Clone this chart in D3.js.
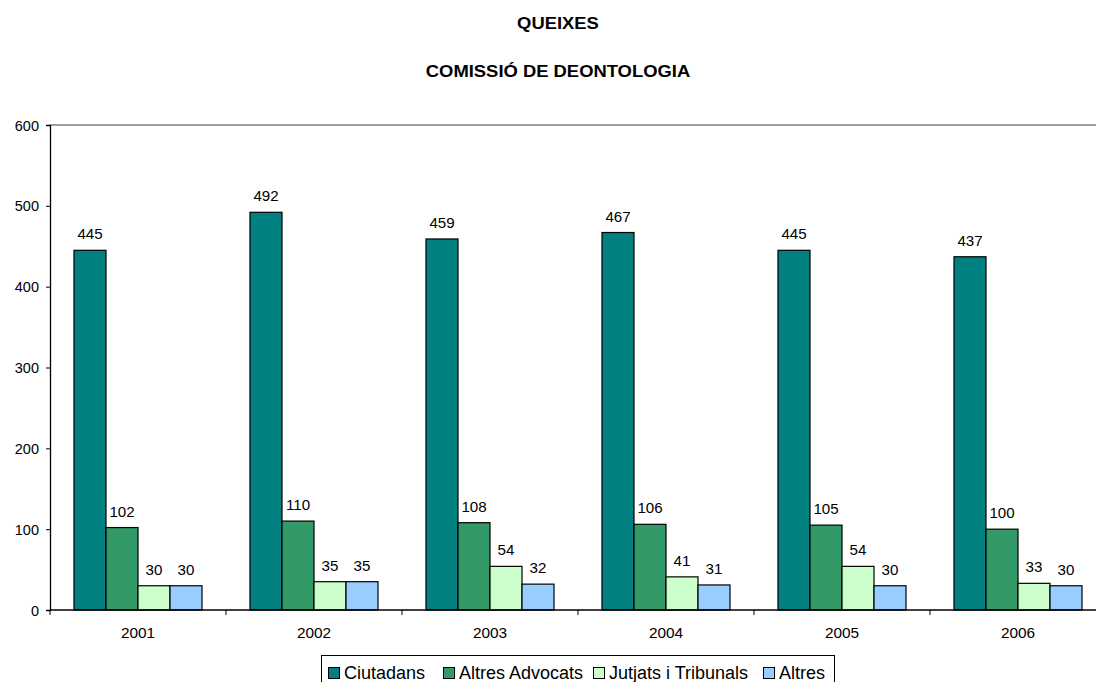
<!DOCTYPE html>
<html>
<head>
<meta charset="utf-8">
<script src="https://cdn.jsdelivr.net/npm/d3@7"></script>
<style>
  body { margin: 0; background: #fff; }
  svg { font-family: Arial, "Liberation Sans", sans-serif; }
</style>
</head>
<body>
<svg id="chart" width="1096" height="682"></svg>
<script>
var years = ["2001", "2002", "2003", "2004", "2005", "2006"];
var seriesNames = ["Ciutadans", "Altres Advocats", "Jutjats i Tribunals", "Altres"];
var seriesColors = ["#008080", "#339966", "#CCFFCC", "#99CCFF"];
var ciutadans = [445, 492, 459, 467, 445, 437];
var altresAdvocats = [102, 110, 108, 106, 105, 100];
var jutjats = [30, 35, 54, 41, 54, 33];
var altres = [30, 35, 32, 31, 30, 30];
var yTicks = [0, 100, 200, 300, 400, 500, 600];

var seriesValues = [ciutadans, altresAdvocats, jutjats, altres];

var svg = d3.select("#chart");
var plotLeft = 50, plotTop = 125, plotBottom = 610, catW = 176;
var plotRight = plotLeft + catW * years.length;

// text drawn a little wider, like the original rendering
function wideText(parent, x, y, str, size, sx, anchor, bold){
    var t = parent.append("text")
        .attr("transform", "translate(" + x + "," + y + ") scale(" + sx + ",1)")
        .attr("text-anchor", anchor || "start")
        .style("font-size", size + "px")
        .text(str);
    if (bold) t.style("font-weight", "bold");
    return t;
}

// titles
wideText(svg, 558, 29, "QUEIXES", 16, 1.15, "middle", true);
wideText(svg, 558, 77, "COMISSIÓ DE DEONTOLOGIA", 16, 1.15, "middle", true);

var x = d3.scaleBand().domain(years).range([plotLeft, plotRight]);
var inner = d3.scaleBand().domain(d3.range(seriesNames.length))
    .range([24, catW - 24]);
var y = d3.scaleLinear().domain([0, 600]).range([plotBottom, plotTop]);

// plot area top border
svg.append("line").attr("x1", plotLeft).attr("x2", plotRight)
    .attr("y1", y(600)).attr("y2", y(600))
    .attr("stroke", "#808080").attr("stroke-width", 1.5);

// bars + labels
seriesValues.forEach(function(vals, s){
    var g = svg.append("g");
    g.selectAll("rect").data(vals).enter().append("rect")
        .attr("x", function(d, i){ return x(years[i]) + inner(s); })
        .attr("y", function(d){ return y(d); })
        .attr("width", inner.bandwidth())
        .attr("height", function(d){ return y(0) - y(d); })
        .attr("fill", seriesColors[s])
        .attr("stroke", "#000").attr("stroke-width", 1.2);
    vals.forEach(function(d, i){
        wideText(g, x(years[i]) + inner(s) + inner.bandwidth() / 2, y(d) - 11, d, 14, 1.08, "middle");
    });
});

// y axis
var yAxis = svg.append("g").attr("transform", "translate(" + plotLeft + ",0)")
    .call(d3.axisLeft(y).tickValues(yTicks).tickSize(4).tickPadding(7));
yAxis.attr("font-family", null).attr("font-size", null);
yAxis.select(".domain").attr("stroke", "#000").attr("stroke-width", 1.3);
yAxis.selectAll("text").style("font-size", "14.5px").attr("fill", "#000").attr("dy", "0.35em");

// x axis
var xAxis = svg.append("g").attr("transform", "translate(0," + plotBottom + ")");
xAxis.append("line").attr("x1", plotLeft).attr("x2", plotRight).attr("stroke", "#000").attr("stroke-width", 1.3);
xAxis.selectAll("line.tk").data(d3.range(years.length + 1)).enter().append("line")
    .attr("x1", function(i){ return plotLeft + i * x.bandwidth(); })
    .attr("x2", function(i){ return plotLeft + i * x.bandwidth(); })
    .attr("y1", 0).attr("y2", 5).attr("stroke", "#000");
years.forEach(function(d){
    wideText(xAxis, x(d) + x.bandwidth() / 2, 28, d, 14, 1.1, "middle");
});

// legend
var legend = svg.append("g");
legend.append("rect").attr("x", 321.5).attr("y", 655.5).attr("width", 513).attr("height", 40)
    .attr("fill", "#fff").attr("stroke", "#000");
var legendX = [328, 443, 593, 763];
seriesNames.forEach(function(name, s){
    var lx = legendX[s];
    legend.append("rect").attr("x", lx + 0.5).attr("y", 667.5).attr("width", 11).attr("height", 11)
        .attr("fill", seriesColors[s]).attr("stroke", "#000");
    wideText(legend, lx + 16, 679, name, 18, 1.0, "start");
});
</script>
</body>
</html>
